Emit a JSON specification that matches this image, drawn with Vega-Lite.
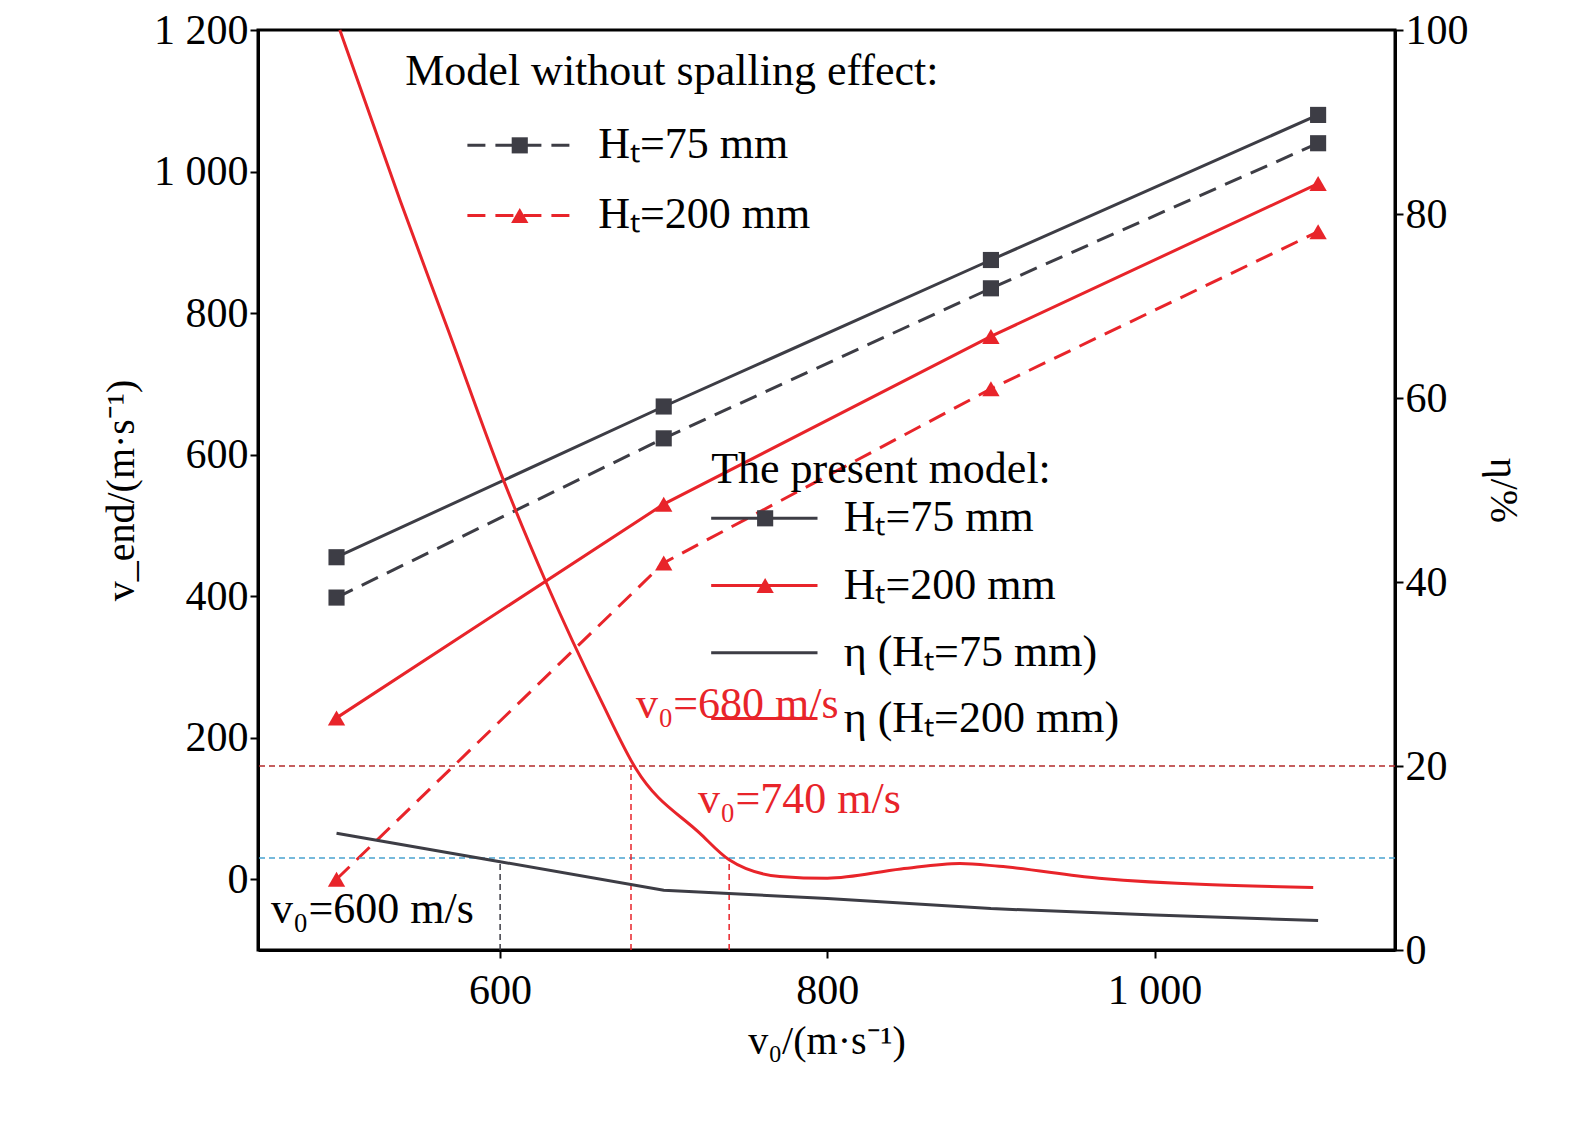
{
  "$schema": "https://vega.github.io/schema/vega-lite/v6.json",
  "width": 1137,
  "height": 920,
  "autosize": "none",
  "padding": {"left": 258, "top": 30, "right": 180, "bottom": 173},
  "background": "white",
  "config": {
    "font": "Liberation Serif",
    "view": {"stroke": "black", "strokeWidth": 3},
    "axis": {"labelFont": "Liberation Serif", "titleFont": "Liberation Serif", "labelFontSize": 42, "titleFontSize": 40, "titleFontWeight": "normal", "labelColor": "black", "titleColor": "black", "domainColor": "black", "domainWidth": 3, "tickColor": "black", "tickWidth": 2, "tickSize": 8, "grid": false}
  },
  "datasets": {
    "series": [
      {"v0": 500, "v": 455, "s": "p75"}, {"v0": 700, "v": 668, "s": "p75"}, {"v0": 900, "v": 875, "s": "p75"}, {"v0": 1100, "v": 1080, "s": "p75"},
      {"v0": 500, "v": 398, "s": "n75"}, {"v0": 700, "v": 623, "s": "n75"}, {"v0": 900, "v": 835, "s": "n75"}, {"v0": 1100, "v": 1040, "s": "n75"},
      {"v0": 500, "v": 228, "s": "p200"}, {"v0": 700, "v": 530, "s": "p200"}, {"v0": 900, "v": 767, "s": "p200"}, {"v0": 1100, "v": 983, "s": "p200"},
      {"v0": 500, "v": 0, "s": "n200"}, {"v0": 700, "v": 447, "s": "n200"}, {"v0": 900, "v": 693, "s": "n200"}, {"v0": 1100, "v": 915, "s": "n200"}
    ],
    "eta": [
      {"v0": 500, "e": 12.7, "s": "e75"}, {"v0": 600, "e": 9.6, "s": "e75"}, {"v0": 700, "e": 6.5, "s": "e75"}, {"v0": 800, "e": 5.6, "s": "e75"}, {"v0": 900, "e": 4.5, "s": "e75"}, {"v0": 1000, "e": 3.8, "s": "e75"}, {"v0": 1100, "e": 3.2, "s": "e75"},
      {"v0": 502, "e": 100, "s": "e200"}, {"v0": 539, "e": 81.4, "s": "e200"}, {"v0": 569, "e": 67, "s": "e200"}, {"v0": 600, "e": 52, "s": "e200"}, {"v0": 628, "e": 40, "s": "e200"}, {"v0": 662, "e": 27, "s": "e200"}, {"v0": 683, "e": 19.7, "s": "e200"}, {"v0": 722, "e": 12.7, "s": "e200"}, {"v0": 740, "e": 9.8, "s": "e200"}, {"v0": 771, "e": 8, "s": "e200"}, {"v0": 800, "e": 7.8, "s": "e200"}, {"v0": 845, "e": 8.8, "s": "e200"}, {"v0": 881, "e": 9.4, "s": "e200"}, {"v0": 905, "e": 9.1, "s": "e200"}, {"v0": 966, "e": 7.8, "s": "e200"}, {"v0": 1097, "e": 6.8, "s": "e200"}
    ],
    "legend": [
      {"x": 580, "x2": 648, "xm": 612, "xt": 660, "y": 1037, "label": "Hₜ=75 mm", "s": "n75", "c": "#3d3d45", "d": 1},
      {"x": 580, "x2": 648, "xm": 612, "xt": 660, "y": 938, "label": "Hₜ=200 mm", "s": "n200", "c": "#e8242a", "d": 1},
      {"x": 729, "x2": 794, "xm": 762, "xt": 810, "y": 510, "label": "Hₜ=75 mm", "s": "p75", "c": "#3d3d45", "d": 0},
      {"x": 729, "x2": 794, "xm": 762, "xt": 810, "y": 415, "label": "Hₜ=200 mm", "s": "p200", "c": "#e8242a", "d": 0},
      {"x": 729, "x2": 794, "xt": 810, "y": 320, "label": "η (Hₜ=75 mm)", "s": "e75", "c": "#3d3d45", "d": 0},
      {"x": 729, "x2": 794, "xt": 810, "y": 227, "label": "η (Hₜ=200 mm)", "s": "e200", "c": "#e8242a", "d": 0}
    ]
  },
  "layer": [
    {
      "layer": [
        {"data": {"name": "series"}, "transform": [{"filter": "datum.s=='p75'"}], "mark": {"type": "line", "color": "#3d3d45", "strokeWidth": 3, "point": {"shape": "square", "size": 260, "filled": true, "color": "#3d3d45"}},
         "encoding": {
           "x": {"field": "v0", "type": "quantitative", "scale": {"domain": [452, 1147], "nice": false}, "axis": {"values": [600, 800, 1000], "labelExpr": "replace(format(datum.value, ','), ',', ' ')", "title": "v₀/(m·s⁻¹)", "titlePadding": 10, "labelPadding": 12}},
           "y": {"field": "v", "type": "quantitative", "scale": {"domain": [-100, 1200], "nice": false}, "axis": {"values": [0, 200, 400, 600, 800, 1000, 1200], "labelExpr": "replace(format(datum.value, ','), ',', ' ')", "title": "v_end/(m·s⁻¹)", "titlePadding": 12}}
         }},
        {"data": {"name": "series"}, "transform": [{"filter": "datum.s=='n75'"}], "mark": {"type": "line", "color": "#3d3d45", "strokeWidth": 3, "strokeDash": [18, 10], "point": {"shape": "square", "size": 260, "filled": true, "color": "#3d3d45"}},
         "encoding": {"x": {"field": "v0", "type": "quantitative"}, "y": {"field": "v", "type": "quantitative"}}},
        {"data": {"name": "series"}, "transform": [{"filter": "datum.s=='p200'"}], "mark": {"type": "line", "color": "#e8242a", "strokeWidth": 3, "point": {"shape": "triangle-up", "size": 300, "filled": true, "color": "#e8242a"}},
         "encoding": {"x": {"field": "v0", "type": "quantitative"}, "y": {"field": "v", "type": "quantitative"}}},
        {"data": {"name": "series"}, "transform": [{"filter": "datum.s=='n200'"}], "mark": {"type": "line", "color": "#e8242a", "strokeWidth": 3, "strokeDash": [18, 10], "point": {"shape": "triangle-up", "size": 300, "filled": true, "color": "#e8242a"}},
         "encoding": {"x": {"field": "v0", "type": "quantitative"}, "y": {"field": "v", "type": "quantitative"}}},
        {"data": {"name": "legend"}, "transform": [{"filter": "datum.d==1"}], "mark": {"type": "rule", "strokeWidth": 3, "strokeDash": [18, 10]},
         "encoding": {"x": {"field": "x", "type": "quantitative"}, "x2": {"field": "x2"}, "y": {"field": "y", "type": "quantitative"}, "color": {"field": "c", "type": "nominal", "scale": null}}},
        {"data": {"name": "legend"}, "transform": [{"filter": "datum.d==0"}], "mark": {"type": "rule", "strokeWidth": 3},
         "encoding": {"x": {"field": "x", "type": "quantitative"}, "x2": {"field": "x2"}, "y": {"field": "y", "type": "quantitative"}, "color": {"field": "c", "type": "nominal", "scale": null}}},
        {"data": {"name": "legend"}, "transform": [{"filter": "datum.s=='n75' || datum.s=='p75'"}], "mark": {"type": "point", "shape": "square", "size": 260, "filled": true, "color": "#3d3d45", "opacity": 1},
         "encoding": {"x": {"field": "xm", "type": "quantitative"}, "y": {"field": "y", "type": "quantitative"}}},
        {"data": {"name": "legend"}, "transform": [{"filter": "datum.s=='n200' || datum.s=='p200'"}], "mark": {"type": "point", "shape": "triangle-up", "size": 300, "filled": true, "color": "#e8242a", "opacity": 1},
         "encoding": {"x": {"field": "xm", "type": "quantitative"}, "y": {"field": "y", "type": "quantitative"}}},
        {"data": {"name": "legend"}, "mark": {"type": "text", "align": "left", "baseline": "middle", "fontSize": 44, "font": "Liberation Serif", "color": "black"},
         "encoding": {"x": {"field": "xt", "type": "quantitative"}, "y": {"field": "y", "type": "quantitative"}, "text": {"field": "label"}}},
        {"data": {"values": [
           {"x": 542, "y": 1141, "t": "Model without spalling effect:", "c": "black"},
           {"x": 729, "y": 578, "t": "The present model:", "c": "black"},
           {"x": 683, "y": 246, "t": "v₀=680 m/s", "c": "#e8242a"},
           {"x": 721, "y": 112, "t": "v₀=740 m/s", "c": "#e8242a"},
           {"x": 460, "y": -44, "t": "v₀=600 m/s", "c": "black"}
         ]},
         "mark": {"type": "text", "align": "left", "baseline": "middle", "fontSize": 44, "font": "Liberation Serif"},
         "encoding": {"x": {"field": "x", "type": "quantitative"}, "y": {"field": "y", "type": "quantitative"}, "text": {"field": "t"}, "color": {"field": "c", "type": "nominal", "scale": null}}}
      ]
    },
    {
      "layer": [
        {"data": {"values": [{"e": 20, "c": "#b22a2a"}, {"e": 10, "c": "#4aa3d0"}]}, "mark": {"type": "rule", "strokeWidth": 1.5, "strokeDash": [6, 4]},
         "encoding": {"y": {"field": "e", "type": "quantitative", "scale": {"domain": [0, 100], "nice": false}, "axis": {"orient": "right", "values": [0, 20, 40, 60, 80, 100], "title": "η/%", "titlePadding": 14, "titleAngle": 90}}, "color": {"field": "c", "type": "nominal", "scale": null}}},
        {"data": {"values": [{"x": 680, "e0": 0, "e": 20, "c": "#e8242a"}, {"x": 740, "e0": 0, "e": 10, "c": "#e8242a"}, {"x": 600, "e0": 0, "e": 9.6, "c": "#3d3d45"}]}, "mark": {"type": "rule", "strokeWidth": 1.5, "strokeDash": [6, 4]},
         "encoding": {"x": {"field": "x", "type": "quantitative"}, "y": {"field": "e0", "type": "quantitative"}, "y2": {"field": "e"}, "color": {"field": "c", "type": "nominal", "scale": null}}},
        {"data": {"name": "eta"}, "transform": [{"filter": "datum.s=='e75'"}], "mark": {"type": "line", "color": "#3d3d45", "strokeWidth": 3},
         "encoding": {"x": {"field": "v0", "type": "quantitative"}, "y": {"field": "e", "type": "quantitative"}}},
        {"data": {"name": "eta"}, "transform": [{"filter": "datum.s=='e200'"}], "mark": {"type": "line", "color": "#e8242a", "strokeWidth": 3, "interpolate": "monotone"},
         "encoding": {"x": {"field": "v0", "type": "quantitative"}, "y": {"field": "e", "type": "quantitative"}}}
      ]
    }
  ],
  "resolve": {"scale": {"y": "independent"}, "axis": {"y": "independent"}}
}
